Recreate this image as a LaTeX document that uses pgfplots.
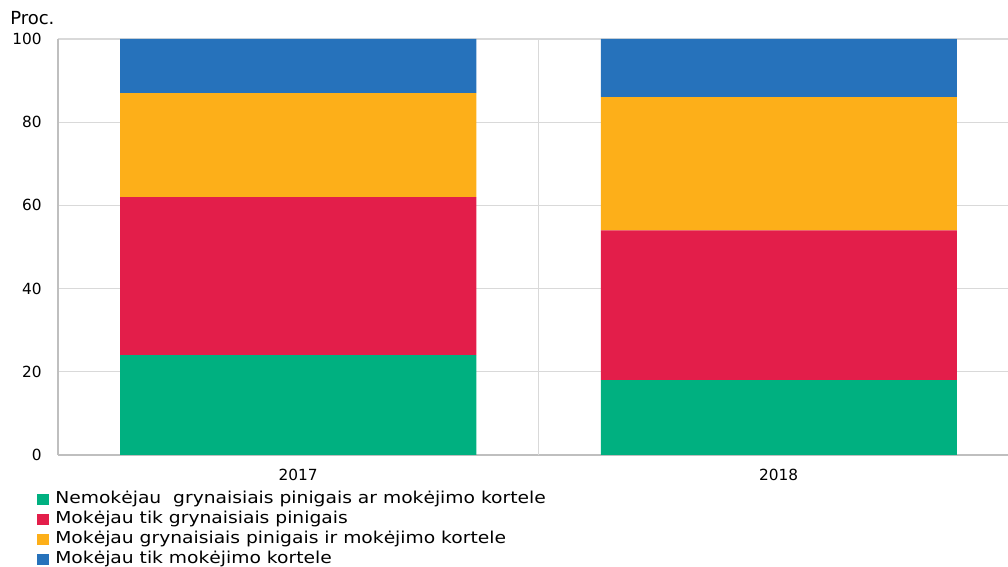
\documentclass[border=0pt]{standalone}
\usepackage{pgfplots}
\pgfplotsset{compat=1.18}
\usepackage{fontspec}
\setmainfont{DejaVu Sans}
\newfontfamily\legfont[FakeStretch=1.14]{DejaVu Sans}
\definecolor{cgreen}{RGB}{0,176,128}
\definecolor{cred}{RGB}{227,30,74}
\definecolor{corange}{RGB}{253,175,25}
\definecolor{cblue}{RGB}{38,114,187}
\definecolor{cgrid}{RGB}{217,217,217}
\definecolor{caxis}{RGB}{191,191,191}
\begin{document}
\begin{tikzpicture}
\begin{axis}[
  at={(43.5pt,84pt)}, anchor=south west,
  scale only axis, width=720.75pt, height=312pt,
  xmin=-0.5, xmax=1.5, ymin=0, ymax=100,
  ybar stacked, bar width=267pt,
  axis lines=left, axis line style={caxis, line width=0.8pt},
  axis line style={-},
  xtick={0,1}, xticklabels={2017,2018},
  ytick={0,20,40,60,80,100},
  extra x ticks={0.5}, extra x tick labels={},
  extra x tick style={grid=major, major grid style={cgrid, line width=0.8pt}},
  ymajorgrids, major grid style={cgrid, line width=0.8pt},
  major tick length=0pt,
  tick label style={font=\fontsize{11.5}{13}\selectfont},
  /pgf/number format/assume math mode=true,
  xticklabel style={inner sep=0pt, anchor=north, yshift=-10.5pt},
  yticklabel style={inner sep=0pt, anchor=east, xshift=-12pt},
  legend style={at={(-0.0219,-0.086)}, anchor=north west, draw=none, fill=none,
    font=\legfont\fontsize{12.3}{14}\selectfont, cells={anchor=west},
    nodes={inner sep=0.8pt, text height=9pt, text depth=2.5pt},
    row sep=1.9pt, inner sep=0pt, outer sep=0pt,
    /tikz/every odd column/.append style={column sep=4pt}},
  legend image code/.code={\fill[#1] (0pt,-4.3pt) rectangle (9pt,4pt);},
  clip=false,
]
\addplot[fill=cgreen, draw=none] coordinates {(0,24) (1,18)};
\addplot[fill=cred, draw=none] coordinates {(0,38) (1,36)};
\addplot[fill=corange, draw=none] coordinates {(0,25) (1,32)};
\addplot[fill=cblue, draw=none] coordinates {(0,13) (1,14)};
\legend{Nemokėjau\ \ grynaisiais pinigais ar mokėjimo kortele, Mokėjau tik grynaisiais pinigais, Mokėjau grynaisiais pinigais ir mokėjimo kortele, Mokėjau tik mokėjimo kortele}
\end{axis}
\node[anchor=west, inner sep=0pt, font=\fontsize{13.5}{15}\selectfont] at (7.5pt,412pt) {Proc.};
\pgfresetboundingbox
\useasboundingbox (0,0) rectangle (756pt,425.25pt);
\end{tikzpicture}
\end{document}
